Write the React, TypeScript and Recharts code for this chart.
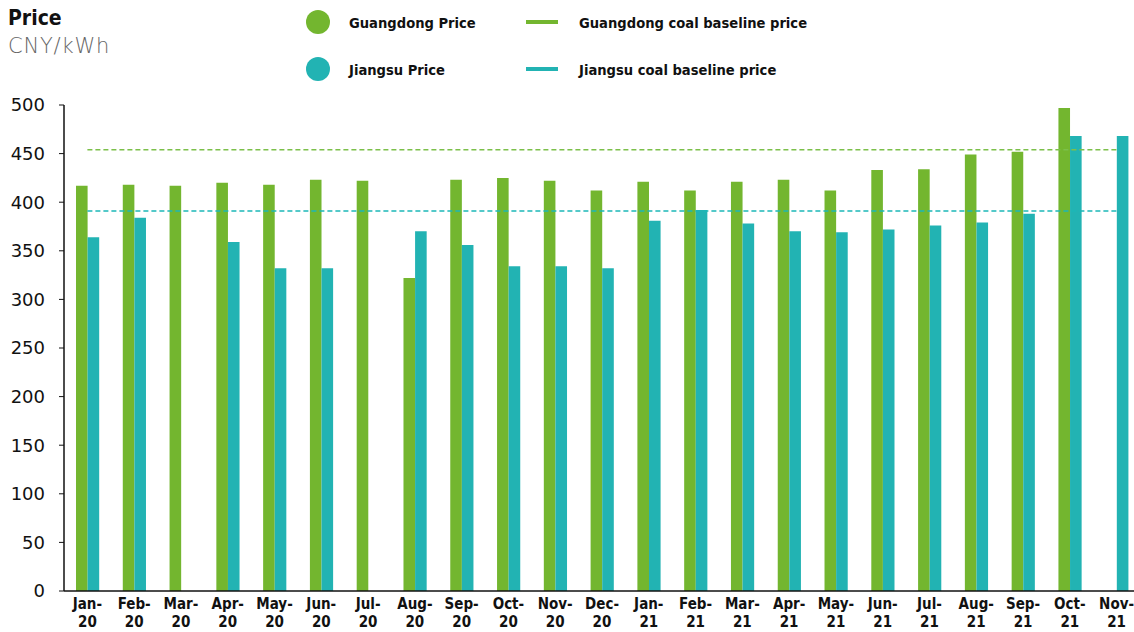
import { BarChart, Bar, XAxis, YAxis, ReferenceLine } from 'recharts'

const months = [
  'Jan-20', 'Feb-20', 'Mar-20', 'Apr-20', 'May-20', 'Jun-20', 'Jul-20', 'Aug-20',
  'Sep-20', 'Oct-20', 'Nov-20', 'Dec-20', 'Jan-21', 'Feb-21', 'Mar-21', 'Apr-21',
  'May-21', 'Jun-21', 'Jul-21', 'Aug-21', 'Sep-21', 'Oct-21', 'Nov-21',
]
const guangdongPrice = [
  417, 418, 417, 420, 418, 423, 422, 322, 423, 425, 422, 412,
  421, 412, 421, 423, 412, 433, 434, 449, 452, 497, null,
]
const jiangsuPrice = [
  364, 384, null, 359, 332, 332, null, 370, 356, 334, 334, 332,
  381, 392, 378, 370, 369, 372, 376, 379, 388, 468, 468,
]
const guangdongBaseline = 454
const jiangsuBaseline = 391
const yTicks = [0, 50, 100, 150, 200, 250, 300, 350, 400, 450, 500]

const GREEN = '#73b62f'
const TEAL = '#22b3b3'
const GREEN_LINE = '#7cc04a'
const TEAL_LINE = '#1db8b8'
const NARROW = "'Liberation Sans Narrow', 'DejaVu Sans Condensed', sans-serif"

const data = months.map((m, i) => ({
  month: m,
  guangdong: guangdongPrice[i],
  jiangsu: jiangsuPrice[i],
}))

// two-line month tick: "Jan-" / "20"
function MonthTick({ x, y, payload }: any) {
  const [m, yr] = String(payload.value).split('-')
  return (
    <text x={x} y={y} textAnchor="middle" fill="#111" fontFamily={NARROW} fontWeight={700} fontSize={15}>
      <tspan x={x} dy={18}>{m}-</tspan>
      <tspan x={x} dy={18}>{yr}</tspan>
    </text>
  )
}

function LegendItem({ left, top, kind, color, label }: any) {
  return (
    <div style={{ position: 'absolute', left, top, display: 'flex', alignItems: 'center', height: 24 }}>
      {kind === 'dot' ? (
        <div style={{ width: 24, height: 24, borderRadius: 12, background: color }} />
      ) : (
        <div style={{ width: 32, height: 4, background: color }} />
      )}
      <span
        style={{
          marginLeft: kind === 'dot' ? 19 : 21,
          fontFamily: NARROW,
          fontWeight: 700,
          fontSize: 14.6,
          color: '#111',
          whiteSpace: 'nowrap',
        }}
      >
        {label}
      </span>
    </div>
  )
}

export default function App() {
  return (
    <div style={{ position: 'fixed', left: 0, top: 0, width: 1134, height: 632, background: '#fff', overflow: 'hidden' }}>
      <div style={{ position: 'absolute', left: 8, top: 6, fontFamily: NARROW, fontWeight: 700, fontSize: 21, color: '#111' }}>
        Price
      </div>
      <div style={{ position: 'absolute', left: 8, top: 34, fontFamily: "'DejaVu Sans', sans-serif", fontWeight: 200, fontSize: 21, letterSpacing: 0.8, color: '#666' }}>
        CNY/kWh
      </div>
      <LegendItem left={306} top={10} kind="dot" color={GREEN} label="Guangdong Price" />
      <LegendItem left={306} top={57} kind="dot" color={TEAL} label="Jiangsu Price" />
      <LegendItem left={526} top={10} kind="line" color={GREEN} label="Guangdong coal baseline price" />
      <LegendItem left={526} top={57} kind="line" color={TEAL} label="Jiangsu coal baseline price" />

      <div style={{ position: 'absolute', left: 0, top: 0 }}>
        <BarChart
          width={1134}
          height={632}
          data={data}
          margin={{ top: 105, right: -6, left: 8, bottom: 0 }}
          barGap={0}
        >
          <XAxis
            dataKey="month"
            height={41}
            axisLine={{ stroke: '#111', strokeWidth: 1.5 }}
            tickLine={false}
            tickSize={0}
            tickMargin={0}
            interval={0}
            tick={<MonthTick />}
          />
          <YAxis
            width={56}
            domain={[0, 500]}
            ticks={yTicks}
            interval={0}
            axisLine={{ stroke: '#111', strokeWidth: 1.5 }}
            tickLine={{ stroke: '#111' }}
            tickSize={5}
            tickMargin={14}
            tick={{ fill: '#111', fontSize: 18, fontFamily: "'DejaVu Sans', sans-serif" }}
          />
          <Bar dataKey="guangdong" fill={GREEN} barSize={11.6} isAnimationActive={false} />
          <Bar dataKey="jiangsu" fill={TEAL} barSize={11.6} isAnimationActive={false} />
          <ReferenceLine
            segment={[{ x: months[0], y: guangdongBaseline }, { x: months[months.length - 1], y: guangdongBaseline }]}
            stroke={GREEN_LINE}
            strokeWidth={1.5}
            strokeDasharray="5 3"
          />
          <ReferenceLine
            segment={[{ x: months[0], y: jiangsuBaseline }, { x: months[months.length - 1], y: jiangsuBaseline }]}
            stroke={TEAL_LINE}
            strokeWidth={1.5}
            strokeDasharray="5 3"
          />
        </BarChart>
      </div>
    </div>
  )
}
